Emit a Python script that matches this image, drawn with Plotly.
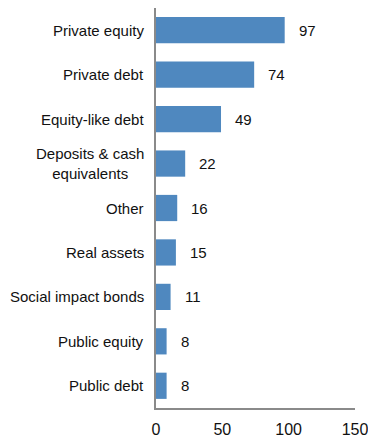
import plotly.graph_objects as go

categories = [
    "Private equity",
    "Private debt",
    "Equity-like debt",
    "Deposits & cash<br>equivalents",
    "Other",
    "Real assets",
    "Social impact bonds",
    "Public equity",
    "Public debt",
]
values = [97, 74, 49, 22, 16, 15, 11, 8, 8]
x_ticks = [0, 50, 100, 150]

FONT = "Liberation Sans, Arial, sans-serif"
FONT_SIZE = 15
TEXT_COLOR = "#111111"
BAR_COLOR = "#4F88BF"
AXIS_COLOR = "#8a8a8a"

fig = go.Figure(
    go.Bar(
        x=values,
        y=categories,
        orientation="h",
        marker=dict(color=BAR_COLOR, line=dict(width=0)),
        width=0.59,
        hoverinfo="skip",
    )
)

# value labels to the right of each bar
for c, v in zip(categories, values):
    fig.add_annotation(
        x=v, y=c, xref="x", yref="y", text=str(v), showarrow=False,
        xanchor="left", xshift=12, font=dict(family=FONT, size=FONT_SIZE, color=TEXT_COLOR),
    )

# category labels, centred line by line
for c in categories:
    fig.add_annotation(
        x=0, y=c, xref="paper", yref="y", text=c, showarrow=False,
        xanchor="right", xshift=-10, align="center",
        font=dict(family=FONT, size=FONT_SIZE, color=TEXT_COLOR),
    )

fig.update_layout(
    width=368, height=438,
    margin=dict(l=156, r=13, t=8, b=30, autoexpand=False),
    paper_bgcolor="white", plot_bgcolor="white",
    showlegend=False,
    font=dict(family=FONT, size=FONT_SIZE, color=TEXT_COLOR),
)
fig.update_xaxes(
    range=[0, 150], tickvals=x_ticks, ticktext=[str(t) for t in x_ticks],
    showgrid=False, zeroline=False, showline=True, linecolor=AXIS_COLOR, linewidth=2,
    ticks="", ticklabelstandoff=6, ticklabeloverflow="allow", automargin=False,
    tickfont=dict(family=FONT, size=16, color=TEXT_COLOR),
    fixedrange=True,
)
fig.update_yaxes(
    categoryorder="array", categoryarray=categories[::-1], range=[-0.5, len(categories) - 0.5],
    showticklabels=False, showgrid=False, zeroline=False, automargin=False,
    showline=True, linecolor=AXIS_COLOR, linewidth=2, ticks="", fixedrange=True,
)

fig.write_html("out.html", config={"displayModeBar": False})
